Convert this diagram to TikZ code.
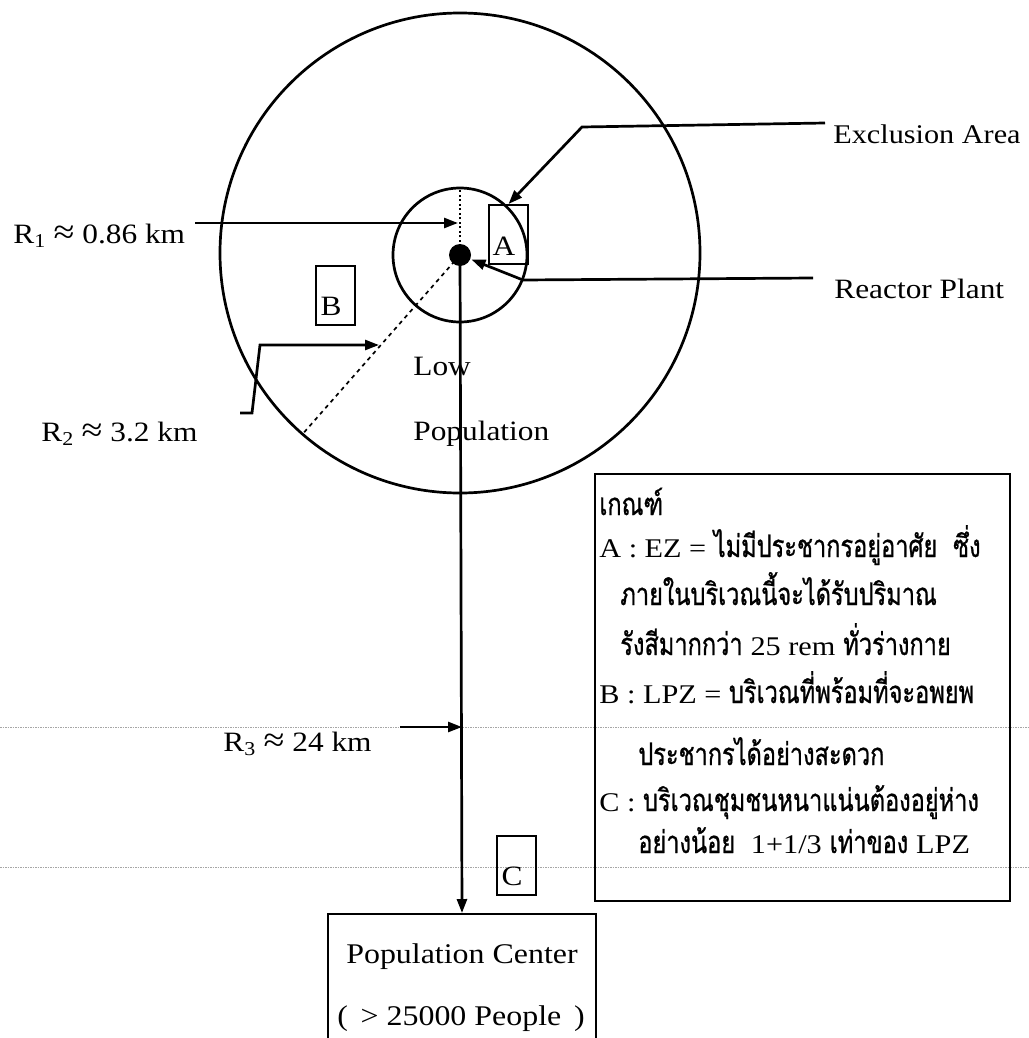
\documentclass[tikz,border=0pt]{standalone}
\usepackage{fontspec}
\setmainfont[FakeStretch=1.12]{Liberation Serif}
\newfontfamily\thaifont[Script=Thai,FakeStretch=0.76,FakeBold=0.8]{Loma}
\usetikzlibrary{arrows.meta}
\newcommand\LegLat{\rmfamily\fontsize{27}{31}\selectfont}
\newcommand\LegThai{\thaifont\fontsize{31}{34}\selectfont}
\newcommand\apx{\ {\fontsize{34}{34}\selectfont ≈}\ }
\begin{document}
\begin{tikzpicture}[x=1pt,y=-1pt,line width=2.7pt,
  lbl/.style={anchor=base west,inner sep=0pt,font=\fontsize{28}{32}\selectfont},
  ctr/.style={anchor=base,inner sep=0pt,font=\fontsize{28.5}{32}\selectfont},
  leg/.style={anchor=base west,inner sep=0pt},
  arr/.style={-{Triangle[length=14pt,width=10pt]}},
  tagbox/.style={draw,line width=2pt,minimum width=39pt,minimum height=59pt,anchor=north west,inner sep=0pt},
  tag/.style={anchor=base,inner sep=0pt,font=\fontsize{28}{32}\selectfont},
  scan/.style={line width=0.9pt,gray!70,dash pattern=on 1.5pt off 1pt}]
\fill[white] (0,0) rectangle (1028,1038);
\useasboundingbox (0,0) rectangle (1028,1038);

% scan lines
\draw[scan] (0,727) -- (1028,727);
\draw[scan] (0,867) -- (1028,867);

% circles and reactor
\node[circle,draw,minimum size=480pt,inner sep=0pt] (outer) at (460,253) {};
\node[circle,draw,minimum size=134pt,inner sep=0pt] (inner) at (460,255) {};
\node[circle,fill,minimum size=22pt,inner sep=0pt] (rx) at (460,255) {};
\draw[line width=1.7pt,dash pattern=on 2pt off 2.5pt] (rx.center) -- (inner.north);
\draw[line width=1.7pt,dash pattern=on 4pt off 4pt] (rx.center) -- (outer.229);

% tag boxes
\node[tagbox] (boxA) at (488,204) {};
\node[tag] (tA) at (504,255) {A};
\node[tagbox] (boxB) at (315,265) {};
\node[tag] (tB) at (331,315) {B};
\node[tagbox] (boxC) at (496,835) {};
\node[tag] (tC) at (512,885) {C};

% population center
\node[draw,line width=2pt,minimum width=268pt,minimum height=140pt,anchor=north,inner sep=0pt] (pop) at (462,913) {};
\node[ctr] (pop1) at (462,963) {Population Center};
\node[ctr] (pop2) at (461,1025) {(\, > 25000 People\, )};
\draw[arr] (rx.center) -- (pop.north);

% R1
\coordinate (r1s) at (195,223);
\draw[arr] (r1s) -- ([xshift=-2pt]r1s -| rx.center);
\node[lbl] (r1) at (12,243) {R\textsubscript{1}\apx 0.86 km};

% R2
\coordinate (r2a) at (240,413);
\coordinate (r2b) at (252,413);
\coordinate (r2c) at (260,345);
\coordinate (r2d) at (379,345);
\draw[arr] (r2a) -- (r2b) -- (r2c) -- (r2d);
\node[lbl] (r2) at (40,441) {R\textsubscript{2}\apx 3.2 km};

% R3
\coordinate (r3s) at (400,727);
\draw[arr] (r3s) -- (r3s -| pop.north);
\node[lbl] (r3) at (222,751) {R\textsubscript{3}\apx 24 km};

% low population
\node[lbl] (low) at (412,375) {Low};
\node[lbl] (lowp) at (412,440) {Population};

% exclusion area
\coordinate (exa) at (825,123);
\coordinate (exb) at (582,127);
\draw[arr] (exa) -- (exb) -- (boxA.north);
\node[lbl,font=\fontsize{27}{32}\selectfont] (exl) at (832,143) {Exclusion Area};

% reactor plant
\coordinate (rpa) at (813,278);
\coordinate (rpb) at (523,280);
\draw[arr] (rpa) -- (rpb) -- (rx);
\node[lbl] (rpl) at (833,298) {Reactor Plant};

% legend
\node[draw,line width=2pt,minimum width=415pt,minimum height=427pt,anchor=north west,inner sep=0pt] (legend) at (594,473) {};
\node[leg] (g0) at (598,515) {\LegThai เกณฑ์};
\node[leg] (g1) at (598,557) {\LegLat A : EZ = \LegThai ไม่มีประชากรอยู่อาศัย\ \ ซึ่ง};
\node[leg] (g2) at (619,605) {\LegThai ภายในบริเวณนี้จะได้รับปริมาณ};
\node[leg] (g3) at (619,655) {\LegThai รังสีมากกว่า {\LegLat 25 rem} ทั่วร่างกาย};
\node[leg] (g4) at (598,703) {\LegLat B : LPZ = \LegThai บริเวณที่พร้อมที่จะอพยพ};
\node[leg] (g5) at (637,765) {\LegThai ประชากรได้อย่างสะดวก};
\node[leg] (g6) at (598,811) {\LegLat C : \LegThai บริเวณชุมชนหนาแน่นต้องอยู่ห่าง};
\node[leg] (g7) at (637,853) {\LegThai อย่างน้อย\ \ {\LegLat 1+1/3} เท่าของ {\LegLat LPZ}};
\end{tikzpicture}
\end{document}
